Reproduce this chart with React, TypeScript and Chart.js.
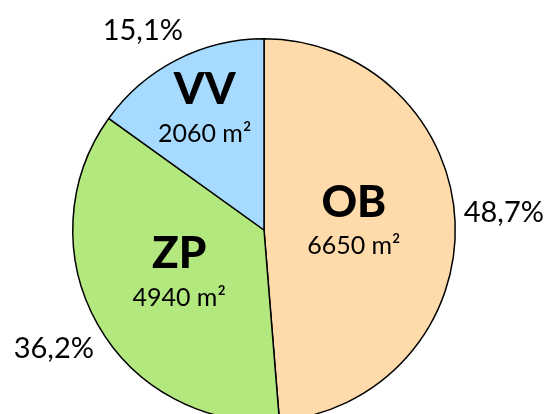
import React, { useEffect, useRef } from "react";
import { Chart, registerables } from "chart.js";

Chart.register(...registerables);

const categories = ["OB", "ZP", "VV"];
const areas = [6650, 4940, 2060];
const unit = "m²";
const colors = ["#FFDBAB", "#B3E87F", "#A6DBFF"];

const FONT = "Lato, 'Open Sans', sans-serif";

const labelPlugin = {
  id: "sliceLabels",
  afterDraw(chart: any, _args: any, opts: any) {
    const ctx = chart.ctx;
    const meta = chart.getDatasetMeta(0);
    const data = chart.data.datasets[0].data as number[];
    const total = data.reduce((a, b) => a + b, 0);
    meta.data.forEach((arc: any, i: number) => {
      const p = arc.getProps(["x", "y", "startAngle", "endAngle", "outerRadius"], true);
      const mid = (p.startAngle + p.endAngle) / 2;
      const c = Math.cos(mid), s = Math.sin(mid);
      const f = opts.innerFactor[i];
      const bx = p.x + c * p.outerRadius * f;
      const by = p.y + s * p.outerRadius * f;
      ctx.save();
      ctx.fillStyle = "#000";
      ctx.textAlign = "center";
      ctx.textBaseline = "middle";
      ctx.font = `900 44px ${FONT}`;
      ctx.fillText(chart.data.labels[i], bx, by - 24);
      ctx.font = `400 25px ${FONT}`;
      ctx.fillText(`${data[i]} ${unit}`, bx, by + 20);
      const pf = opts.outerFactor;
      const off = opts.outerOffset[i];
      const px = p.x + c * p.outerRadius * pf + off[0];
      const py = p.y + s * p.outerRadius * pf + off[1];
      ctx.font = `400 29px ${FONT}`;
      const pct = ((data[i] / total) * 100).toFixed(1).replace(".", ",") + "%";
      ctx.fillText(pct, px, py);
      ctx.restore();
    });
  },
};

export default function App() {
  const ref = useRef<HTMLCanvasElement>(null);
  useEffect(() => {
    if (!ref.current) return;
    const chart = new Chart(ref.current, {
      type: "pie",
      data: {
        labels: categories,
        datasets: [
          {
            data: areas,
            backgroundColor: colors,
            borderColor: "#000",
            borderWidth: 1.5,
          },
        ],
      },
      options: {
        responsive: false,
        animation: false,
        layout: { padding: { top: 38, bottom: 38, left: 72, right: 95 } },
        plugins: {
          legend: { display: false },
          tooltip: { enabled: false },
          sliceLabels: {
            innerFactor: [0.47, 0.51, 0.68],
            outerFactor: 1.25,
            outerOffset: [[1, -8], [-2, 1], [-12, 13]],
          },
        } as any,
      },
      plugins: [labelPlugin],
    });
    return () => chart.destroy();
  }, []);
  return (
    <div
      style={{
        position: "fixed",
        left: 0,
        top: 0,
        width: 551,
        height: 414,
        overflow: "hidden",
        background: "#fff",
      }}
    >
      <canvas ref={ref} width={551} height={460} style={{ display: "block" }} />
    </div>
  );
}
